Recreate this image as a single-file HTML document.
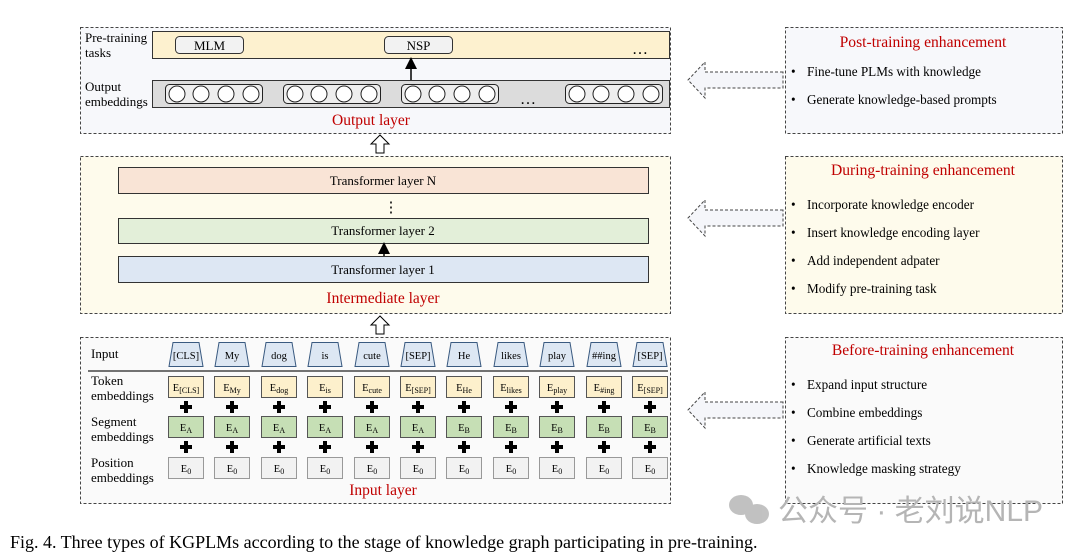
<!DOCTYPE html>
<html><head><meta charset="utf-8"><style>
body{margin:0;background:#fff;}
svg text{font-family:"Liberation Serif",serif;}
</style></head><body>
<svg width="1080" height="553" viewBox="0 0 1080 553" xmlns="http://www.w3.org/2000/svg">
<defs>
<marker id="ah" markerWidth="8" markerHeight="8" refX="4" refY="4" orient="auto"><path d="M0,0 L8,4 L0,8 z" fill="#000"/></marker>
<g id="plus"><path d="M-2,-6 h4 v4 h4 v4 h-4 v4 h-4 v-4 h-4 v-4 h4 z" fill="#000"/></g>
<path id="trap" d="M-13,0 L13,0 L17,24 L-17,24 Z" fill="#dde7f3" stroke="#3a5a80"/>
<rect id="tb" x="-17.5" y="0" width="35" height="21" fill="#fdf0cc" stroke="#555"/>
<rect id="sb" x="-17.5" y="0" width="35" height="21" fill="#c6dfb5" stroke="#555"/>
<rect id="pb" x="-17.5" y="0" width="35" height="21" fill="#f2f2f2" stroke="#999"/>
</defs>
<g stroke="#444" stroke-dasharray="3,2" stroke-width="1">
<rect x="80.5" y="27.5" width="590" height="106" fill="#f7f8fb"/>
<rect x="80.5" y="156.5" width="590" height="157" fill="#fefbec"/>
<rect x="80.5" y="337.5" width="590" height="166" fill="#fafafa"/>
<rect x="785.5" y="27.5" width="277" height="106" fill="#f7f8fb"/>
<rect x="785.5" y="156.5" width="277" height="157" fill="#fefbec"/>
<rect x="785.5" y="337.5" width="277" height="166" fill="#fafafa"/>
<path d="M783,72 L705,72 L705,62 L688,80 L705,98 L705,88 L783,88 Z" fill="#f5f6fa"/>
<path d="M783,210 L705,210 L705,200 L688,218 L705,236 L705,226 L783,226 Z" fill="#f5f6fa"/>
<path d="M783,402 L705,402 L705,392 L688,410 L705,428 L705,418 L783,418 Z" fill="#f5f6fa"/>
</g>
<path d="M376,153 L376,144 L371,144 L380,135 L389,144 L384,144 L384,153 Z" fill="#fff" stroke="#000"/>
<path d="M376,334 L376,325 L371,325 L380,316 L389,325 L384,325 L384,334 Z" fill="#fff" stroke="#000"/>

<text x="85" y="42" font-size="13">Pre-training</text>
<text x="85" y="57" font-size="13">tasks</text>
<rect x="152.5" y="31.5" width="517" height="27" fill="#fdf1cf" stroke="#333"/>
<rect x="175.5" y="36.5" width="68" height="17" rx="4" fill="#f2f2f2" stroke="#333"/>
<text x="209.5" y="50" font-size="13" text-anchor="middle">MLM</text>
<rect x="384.5" y="36.5" width="68" height="17" rx="4" fill="#f2f2f2" stroke="#333"/>
<text x="418.5" y="50" font-size="13" text-anchor="middle">NSP</text>
<text x="632" y="54" font-size="16">…</text>
<line x1="411" y1="81" x2="411" y2="63" stroke="#000" stroke-width="1.5" marker-end="url(#ah)"/>
<text x="85" y="91" font-size="13">Output</text>
<text x="85" y="106" font-size="13">embeddings</text>
<rect x="152.5" y="80.5" width="517" height="27" fill="#dcdcdc" stroke="#333"/>
<g fill="#fff" stroke="#222">
<rect x="165.5" y="84.5" width="97" height="19" rx="4" fill="#eee"/>
<rect x="283.5" y="84.5" width="97" height="19" rx="4" fill="#eee"/>
<rect x="401.5" y="84.5" width="97" height="19" rx="4" fill="#eee"/>
<rect x="565.5" y="84.5" width="97" height="19" rx="4" fill="#eee"/>
<circle cx="177" cy="94" r="8"/><circle cx="201" cy="94" r="8"/><circle cx="226" cy="94" r="8"/><circle cx="251" cy="94" r="8"/>
<circle cx="295" cy="94" r="8"/><circle cx="319" cy="94" r="8"/><circle cx="344" cy="94" r="8"/><circle cx="369" cy="94" r="8"/>
<circle cx="413" cy="94" r="8"/><circle cx="437" cy="94" r="8"/><circle cx="462" cy="94" r="8"/><circle cx="487" cy="94" r="8"/>
<circle cx="577" cy="94" r="8"/><circle cx="601" cy="94" r="8"/><circle cx="626" cy="94" r="8"/><circle cx="651" cy="94" r="8"/>
</g>
<text x="520" y="104" font-size="16">…</text>
<text x="371" y="125" font-size="15.5" fill="#c00000" text-anchor="middle">Output layer</text>

<rect x="118.5" y="167.5" width="530" height="26" fill="#f9e4d6" stroke="#333"/>
<text x="383" y="185" font-size="13" text-anchor="middle">Transformer layer N</text>
<text x="391" y="212" font-size="15" text-anchor="middle">⋮</text>
<rect x="118.5" y="218.5" width="530" height="25" fill="#e3efd9" stroke="#333"/>
<text x="383" y="235" font-size="13" text-anchor="middle">Transformer layer 2</text>
<line x1="384" y1="256" x2="384" y2="248" stroke="#000" stroke-width="1.5" marker-end="url(#ah)"/>
<rect x="118.5" y="256.5" width="530" height="26" fill="#dde7f3" stroke="#333"/>
<text x="383" y="274" font-size="13" text-anchor="middle">Transformer layer 1</text>
<text x="383" y="303" font-size="15.5" fill="#c00000" text-anchor="middle">Intermediate layer</text>

<text x="91" y="358" font-size="13">Input</text>
<text x="91" y="385" font-size="13">Token</text>
<text x="91" y="400" font-size="13">embeddings</text>
<text x="91" y="426" font-size="13">Segment</text>
<text x="91" y="441" font-size="13">embeddings</text>
<text x="91" y="467" font-size="13">Position</text>
<text x="91" y="482" font-size="13">embeddings</text>
<line x1="88" y1="371" x2="668" y2="371" stroke="#222" stroke-width="1.2"/>

<g font-size="10.5" text-anchor="middle">
<g transform="translate(186,0)"><use href="#trap" y="342.5"/><text y="359">[CLS]</text><use href="#tb" y="376.5"/><text y="391">E<tspan font-size="8" dy="2">[CLS]</tspan></text><use href="#plus" y="407"/><use href="#sb" y="416.5"/><text y="431">E<tspan font-size="8" dy="2">A</tspan></text><use href="#plus" y="447"/><use href="#pb" y="457.5"/><text y="472">E<tspan font-size="8" dy="2">0</tspan></text></g>
<g transform="translate(232,0)"><use href="#trap" y="342.5"/><text y="359">My</text><use href="#tb" y="376.5"/><text y="391">E<tspan font-size="8" dy="2">My</tspan></text><use href="#plus" y="407"/><use href="#sb" y="416.5"/><text y="431">E<tspan font-size="8" dy="2">A</tspan></text><use href="#plus" y="447"/><use href="#pb" y="457.5"/><text y="472">E<tspan font-size="8" dy="2">0</tspan></text></g>
<g transform="translate(279,0)"><use href="#trap" y="342.5"/><text y="359">dog</text><use href="#tb" y="376.5"/><text y="391">E<tspan font-size="8" dy="2">dog</tspan></text><use href="#plus" y="407"/><use href="#sb" y="416.5"/><text y="431">E<tspan font-size="8" dy="2">A</tspan></text><use href="#plus" y="447"/><use href="#pb" y="457.5"/><text y="472">E<tspan font-size="8" dy="2">0</tspan></text></g>
<g transform="translate(325,0)"><use href="#trap" y="342.5"/><text y="359">is</text><use href="#tb" y="376.5"/><text y="391">E<tspan font-size="8" dy="2">is</tspan></text><use href="#plus" y="407"/><use href="#sb" y="416.5"/><text y="431">E<tspan font-size="8" dy="2">A</tspan></text><use href="#plus" y="447"/><use href="#pb" y="457.5"/><text y="472">E<tspan font-size="8" dy="2">0</tspan></text></g>
<g transform="translate(372,0)"><use href="#trap" y="342.5"/><text y="359">cute</text><use href="#tb" y="376.5"/><text y="391">E<tspan font-size="8" dy="2">cute</tspan></text><use href="#plus" y="407"/><use href="#sb" y="416.5"/><text y="431">E<tspan font-size="8" dy="2">A</tspan></text><use href="#plus" y="447"/><use href="#pb" y="457.5"/><text y="472">E<tspan font-size="8" dy="2">0</tspan></text></g>
<g transform="translate(418,0)"><use href="#trap" y="342.5"/><text y="359">[SEP]</text><use href="#tb" y="376.5"/><text y="391">E<tspan font-size="8" dy="2">[SEP]</tspan></text><use href="#plus" y="407"/><use href="#sb" y="416.5"/><text y="431">E<tspan font-size="8" dy="2">A</tspan></text><use href="#plus" y="447"/><use href="#pb" y="457.5"/><text y="472">E<tspan font-size="8" dy="2">0</tspan></text></g>
<g transform="translate(464,0)"><use href="#trap" y="342.5"/><text y="359">He</text><use href="#tb" y="376.5"/><text y="391">E<tspan font-size="8" dy="2">He</tspan></text><use href="#plus" y="407"/><use href="#sb" y="416.5"/><text y="431">E<tspan font-size="8" dy="2">B</tspan></text><use href="#plus" y="447"/><use href="#pb" y="457.5"/><text y="472">E<tspan font-size="8" dy="2">0</tspan></text></g>
<g transform="translate(511,0)"><use href="#trap" y="342.5"/><text y="359">likes</text><use href="#tb" y="376.5"/><text y="391">E<tspan font-size="8" dy="2">likes</tspan></text><use href="#plus" y="407"/><use href="#sb" y="416.5"/><text y="431">E<tspan font-size="8" dy="2">B</tspan></text><use href="#plus" y="447"/><use href="#pb" y="457.5"/><text y="472">E<tspan font-size="8" dy="2">0</tspan></text></g>
<g transform="translate(557,0)"><use href="#trap" y="342.5"/><text y="359">play</text><use href="#tb" y="376.5"/><text y="391">E<tspan font-size="8" dy="2">play</tspan></text><use href="#plus" y="407"/><use href="#sb" y="416.5"/><text y="431">E<tspan font-size="8" dy="2">B</tspan></text><use href="#plus" y="447"/><use href="#pb" y="457.5"/><text y="472">E<tspan font-size="8" dy="2">0</tspan></text></g>
<g transform="translate(604,0)"><use href="#trap" y="342.5"/><text y="359">##ing</text><use href="#tb" y="376.5"/><text y="391">E<tspan font-size="8" dy="2">#ing</tspan></text><use href="#plus" y="407"/><use href="#sb" y="416.5"/><text y="431">E<tspan font-size="8" dy="2">B</tspan></text><use href="#plus" y="447"/><use href="#pb" y="457.5"/><text y="472">E<tspan font-size="8" dy="2">0</tspan></text></g>
<g transform="translate(650,0)"><use href="#trap" y="342.5"/><text y="359">[SEP]</text><use href="#tb" y="376.5"/><text y="391">E<tspan font-size="8" dy="2">[SEP]</tspan></text><use href="#plus" y="407"/><use href="#sb" y="416.5"/><text y="431">E<tspan font-size="8" dy="2">B</tspan></text><use href="#plus" y="447"/><use href="#pb" y="457.5"/><text y="472">E<tspan font-size="8" dy="2">0</tspan></text></g>
</g>
<text x="383" y="495" font-size="15.5" fill="#c00000" text-anchor="middle">Input layer</text>

<g font-size="13.2">
<text x="923" y="47" font-size="15.6" fill="#c00000" text-anchor="middle">Post-training enhancement</text>
<text x="791" y="76">•</text><text x="807" y="76">Fine-tune PLMs with knowledge</text>
<text x="791" y="104">•</text><text x="807" y="104">Generate knowledge-based prompts</text>
<text x="923" y="175" font-size="15.6" fill="#c00000" text-anchor="middle">During-training enhancement</text>
<text x="791" y="209">•</text><text x="807" y="209">Incorporate knowledge encoder</text>
<text x="791" y="237">•</text><text x="807" y="237">Insert knowledge encoding layer</text>
<text x="791" y="265">•</text><text x="807" y="265">Add independent adpater</text>
<text x="791" y="293">•</text><text x="807" y="293">Modify pre-training task</text>
<text x="923" y="355" font-size="15.6" fill="#c00000" text-anchor="middle">Before-training enhancement</text>
<text x="791" y="389">•</text><text x="807" y="389">Expand input structure</text>
<text x="791" y="417">•</text><text x="807" y="417">Combine embeddings</text>
<text x="791" y="445">•</text><text x="807" y="445">Generate artificial texts</text>
<text x="791" y="473">•</text><text x="807" y="473">Knowledge masking strategy</text>
</g>

<g fill="#bbb" opacity="0.9">
<ellipse cx="741" cy="505" rx="12" ry="10"/>
<ellipse cx="757" cy="514" rx="12" ry="10"/>
</g>
<text x="778" y="521" font-size="30" fill="#b5b5b5" style='font-family:"Liberation Sans","Noto Sans CJK SC",sans-serif'>公众号 · 老刘说NLP</text>

<text x="10" y="548" font-size="18">Fig. 4.  Three types of KGPLMs according to the stage of knowledge graph participating in pre-training.</text>
</svg>
</body></html>
